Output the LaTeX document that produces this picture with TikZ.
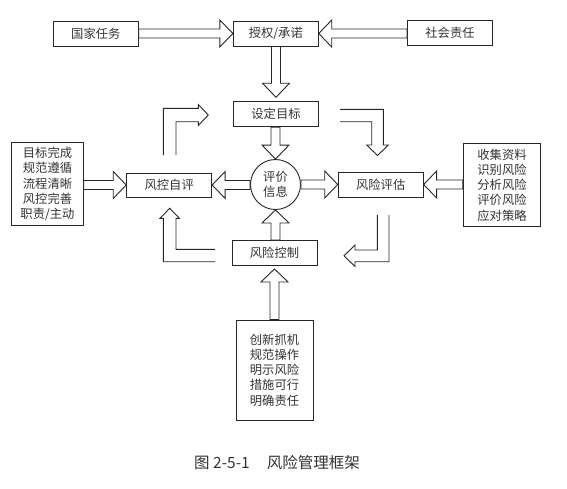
\documentclass[tikz,border=0pt]{standalone}
\usepackage{fontspec}
\newfontfamily\cjk{Noto Sans CJK SC}
\usetikzlibrary{calc}
\tikzset{
  kuang/.style={draw=black!85, line width=0.9pt, fill=white, minimum width=85pt, minimum height=25pt, inner sep=0pt, align=center, text=black!80, font=\cjk\fontsize{12.3pt}{15.2pt}\selectfont},
  liebiao/.style={kuang, minimum width=75pt, minimum height=83pt},
  kongxin/.style={draw=black!85, line width=0.9pt, fill=white, line join=miter},
}
% hollow block arrows: (start)(tip)
\def\rblock(#1)(#2){\draw[kongxin] ($(#1|-#2)+(0,-4.5)$) -- ($(#2)+(-13,-4.5)$) -- ($(#2)+(-13,-13.5)$) -- (#2) -- ($(#2)+(-13,13.5)$) -- ($(#2)+(-13,4.5)$) -- ($(#1|-#2)+(0,4.5)$) -- cycle;}
\def\lblock(#1)(#2){\draw[kongxin] ($(#1|-#2)+(0,-4.5)$) -- ($(#2)+(13,-4.5)$) -- ($(#2)+(13,-13.5)$) -- (#2) -- ($(#2)+(13,13.5)$) -- ($(#2)+(13,4.5)$) -- ($(#1|-#2)+(0,4.5)$) -- cycle;}
\def\dblock(#1)(#2){\draw[kongxin] ($(#2|-#1)+(-4.5,0)$) -- ($(#2)+(-4.5,-14)$) -- ($(#2)+(-13.5,-14)$) -- (#2) -- ($(#2)+(13.5,-14)$) -- ($(#2)+(4.5,-14)$) -- ($(#2|-#1)+(4.5,0)$) -- cycle;}
\def\ublock(#1)(#2){\draw[kongxin] ($(#2|-#1)+(-4.5,0)$) -- ($(#2)+(-4.5,13)$) -- ($(#2)+(-13.5,13)$) -- (#2) -- ($(#2)+(13.5,13)$) -- ($(#2)+(4.5,13)$) -- ($(#2|-#1)+(4.5,0)$) -- cycle;}

\begin{document}
\begin{tikzpicture}[x=1pt,y=-1pt]
			%%%%% START %%%%%
			\useasboundingbox[fill=white] (0,0) rectangle (567,488);
			
			\node[kuang] (guojia) at (95.8,33.5) {国家任务};
			\node[kuang] (shouquan) at (275.8,33.5) {授权/承诺};
			\node[kuang] (shehui) at (450,33) {社会责任};
			\node[kuang] (mubiao) at (276,114.2) {设定目标};
			
			\node[kuang, circle, minimum size=50pt] (xinxi) at (275.5,184.5) {评价\\信息};
			\node[kuang, minimum height=24pt] (ziping) at (169.2,185) {风控自评};
			\node[kuang] (pinggu) at (380.7,184.5) {风险评估};
			\node[kuang] (kongzhi) at (274.5,253) {风险控制};
			
			\node[liebiao, minimum width=71.6pt] (zuo) at (47.5,184) {目标完成\\规范遵循\\流程清晰\\风控完善\\职责/主动};
			\node[liebiao, minimum width=77.4pt] (you) at (502,185) {收集资料\\识别风险\\分析风险\\评价风险\\应对策略};
			\node[liebiao, minimum width=77pt, minimum height=100pt] (xia) at (274.5,370) {创新抓机\\规范操作\\明示风险\\措施可行\\明确责任};
			
			\node[text=black!80, font=\cjk\fontsize{15.5pt}{18pt}\selectfont] (tuming) at (277,463) {图 2-5-1\hspace{1.1em}风险管理框架};
			
			\coordinate (mubiaotop) at ($(mubiao.north)+(0,-4)$);
			\coordinate (kongzhibot) at ($(kongzhi.south)+(0,3)$);
			
			\rblock(guojia.east)(shouquan.west)
			\lblock(shehui.west)(shouquan.east)
			\dblock(shouquan.south)(mubiaotop)
			\dblock(mubiao.south)(xinxi.north)
			\lblock(xinxi.west)(ziping.east)
			\rblock(xinxi.east)(pinggu.west)
			\rblock(zuo.east)(ziping.west)
			\lblock(you.west)(pinggu.east)
			\ublock(kongzhi.north)(xinxi.south)
			\ublock(xia.north)(kongzhibot)
			
			% bent arrows round the circle
			\draw[kongxin, fill=none] (163.3,155) -- (163.3,108.3) -- (198.3,108.3) -- (198.3,104.5) -- (208.3,115) -- (198.3,125.5) -- (198.3,121.7) -- (176,121.7) -- (176,155);
			\draw[kongxin, fill=none] (340,109.3) -- (383.3,109.3) -- (383.3,145) -- (388.3,145) -- (377.5,155.5) -- (366.7,145) -- (371.7,145) -- (371.7,121.7) -- (340,121.7);
			\draw[kongxin, fill=none] (389,215) -- (389,261.7) -- (355,261.7) -- (355,266.5) -- (344,255.8) -- (355,245) -- (355,250) -- (377.3,250) -- (377.3,215);
			\draw[kongxin, fill=none] (215,261.7) -- (163.3,261.7) -- (163.3,218.3) -- (160,218.3) -- (169.7,208.3) -- (179.4,218.3) -- (176,218.3) -- (176,249.3) -- (215,249.3);
			%%%%% END %%%%%
\end{tikzpicture}
\end{document}
